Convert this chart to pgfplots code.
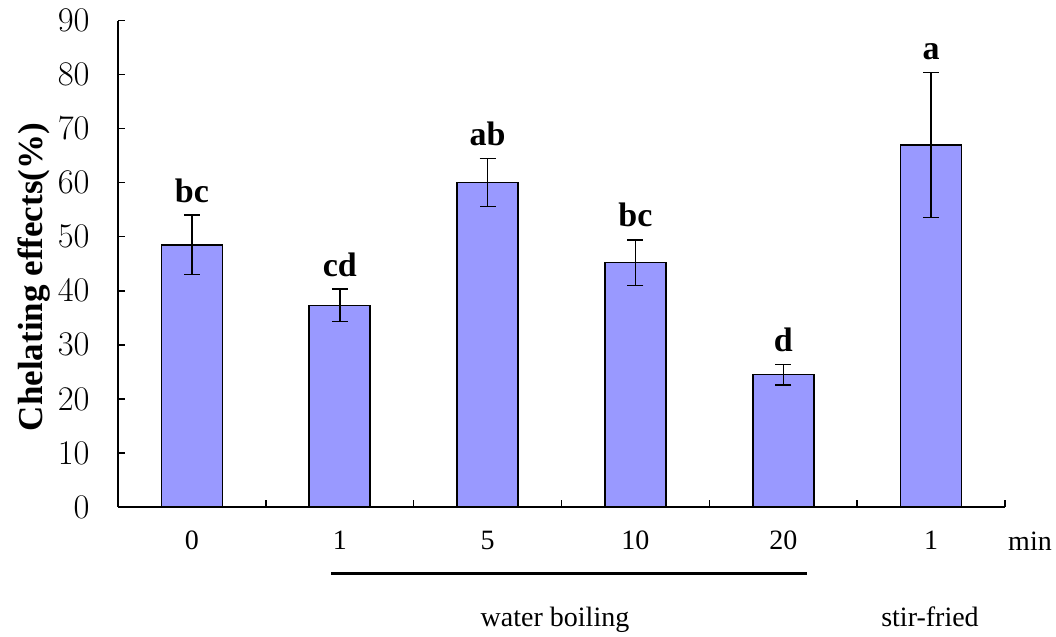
\documentclass[border=0pt]{standalone}
\usepackage{fontspec}
\setmainfont{Liberation Serif}
\usepackage{pgfplots}
\usepackage{pgfplotstable}
\pgfplotsset{compat=1.18}
\definecolor{barfill}{HTML}{9999FF}

% mean chelating effect and its error, one row per treatment
\pgfplotstableread{
x  y     err
0  48.5  5.5
1  37.3  3.0
2  60.0  4.45
3  45.2  4.2
4  24.5  1.9
5  67.0  13.4
}\chelating

\begin{document}
\begin{tikzpicture}
\useasboundingbox (0,0) rectangle (528pt,318.5pt);
\begin{axis}[
  at={(59pt,65pt)}, anchor=south west,
  scale only axis, width=443.5pt, height=243.25pt,
  xmin=-0.5, xmax=5.5, ymin=0, ymax=90,
  axis x line*=bottom, axis y line*=left,
  axis line style={-, line width=0.75pt, black},
  tick align=inside, major tick length=3.5pt,
  tick style={line width=0.75pt, black},
  ytick={0,10,...,90},
  yticklabel style={font=\fontsize{17}{20}\selectfont, anchor=east, inner sep=0pt, xshift=-14pt},
  xtick={0,...,5}, xticklabels={0,1,5,10,20,1},
  xtick style={draw=none},
  xticklabel style={font=\fontsize{14}{17}\selectfont, anchor=base, inner sep=0pt, yshift=-21.5pt},
  extra x ticks={0.5,1.5,2.5,3.5,4.5,5.5},
  extra x tick labels={},
  extra x tick style={xtick style={draw=black, line width=0.75pt}},
  clip=false,
]
\addplot[ybar, bar width=30.5pt, fill=barfill, draw=black, line width=0.8pt,
  error bars/.cd, y dir=both, y explicit,
  error bar style={line width=0.75pt, black},
  error mark options={rotate=90, mark size=4pt, line width=0.75pt, black}]
  table[x=x, y=y, y error=err] {\chelating};

% significance letters above the error bars
\begin{scope}[every node/.style={anchor=base, inner sep=0pt, yshift=6.5pt, font=\fontsize{17}{20}\selectfont\bfseries}]
\node at (axis cs:0,54.0) {bc};
\node at (axis cs:1,40.3) {cd};
\node at (axis cs:2,64.45) {ab};
\node at (axis cs:3,49.4) {bc};
\node at (axis cs:4,26.4) {d};
\node at (axis cs:5,80.4) {a};
\end{scope}
\end{axis}

\node[rotate=90, font=\fontsize{17.5}{21}\selectfont\bfseries] at (17pt,180pt) {Chelating effects(\%)};
\node[anchor=base, font=\fontsize{14}{17}\selectfont] at (515pt,43pt) {min};
\draw[line width=1.5pt] (165.5pt,31.5pt) -- (403.5pt,31.5pt);
\node[anchor=base, font=\fontsize{14}{17}\selectfont] at (277.5pt,5pt) {water boiling};
\node[anchor=base, font=\fontsize{14}{17}\selectfont] at (465pt,5pt) {stir-fried};
\end{tikzpicture}
\end{document}
